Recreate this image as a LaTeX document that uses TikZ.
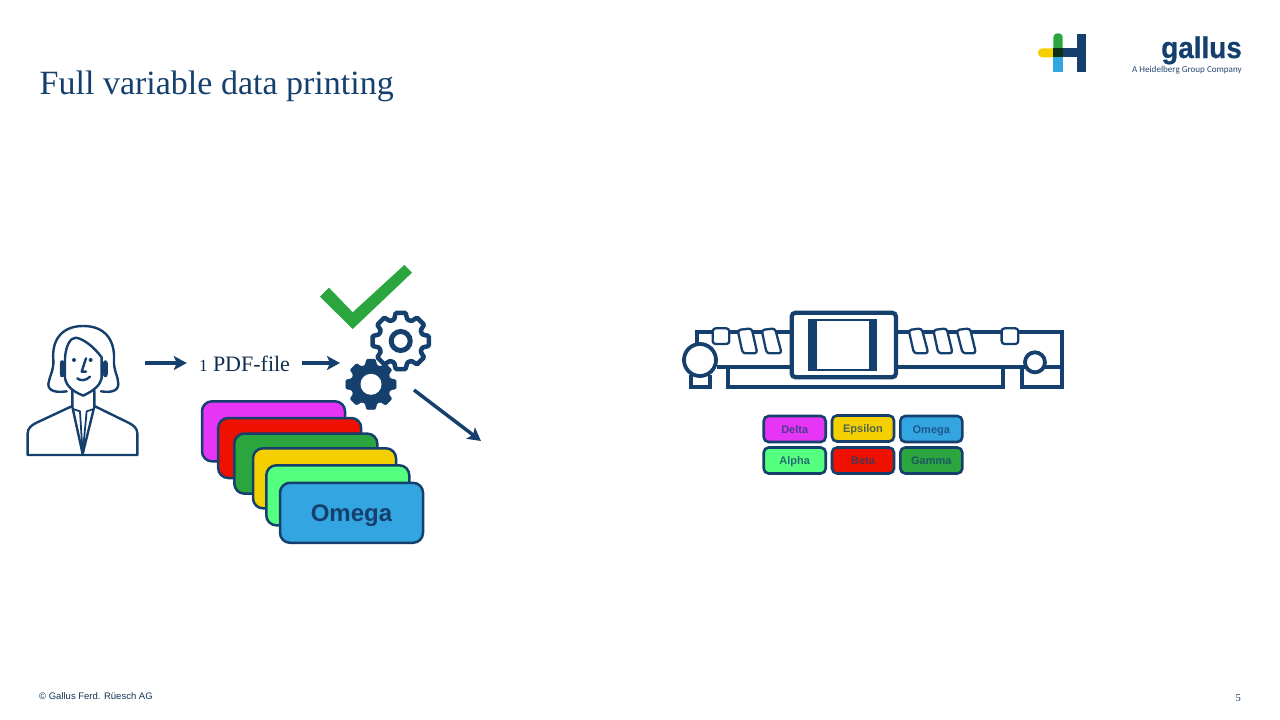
\documentclass[tikz,border=0pt]{standalone}
\usepackage{fontspec}
\setmainfont{Liberation Serif}
\setsansfont{Liberation Sans}
\newfontfamily\logofont{Carlito}
\newfontfamily\brandfont[FakeStretch=0.93,FakeBold=0.6]{Liberation Sans Bold}
\usetikzlibrary{arrows.meta}

\definecolor{navy}{HTML}{15406E}
\definecolor{cardmagenta}{HTML}{E735F5}
\definecolor{cardred}{HTML}{EE1100}
\definecolor{cardgreen}{HTML}{2BA63F}
\definecolor{cardyellow}{HTML}{F5D000}
\definecolor{cardlime}{HTML}{55FF7F}
\definecolor{cardblue}{HTML}{33A5E0}

\tikzset{
	card/.style={draw=navy,line width=2.5pt,rounded corners=10pt,minimum width=143pt,minimum height=60pt,inner sep=0pt,outer sep=0pt,text height=17pt,text depth=0pt,font=\sffamily\bfseries\fontsize{24}{24}\selectfont,text=navy},
	smallcard/.style={draw=navy,line width=2.6pt,rounded corners=5pt,minimum width=62pt,minimum height=26pt,inner sep=0pt,outer sep=0pt,text height=8pt,text depth=0pt,font=\sffamily\bfseries\fontsize{11}{11}\selectfont,text=navy,text opacity=0.75},
	flow/.style={draw=navy,line width=3.5pt,-{Stealth[length=13pt,width=14pt,inset=3pt]}},
	outline/.style={draw=navy,line width=2.4pt,line join=round,line cap=round},
	press/.style={draw=navy,line width=3.8pt,line join=miter},
	roller/.style={draw=navy,fill=white,line width=2.3pt,line join=round,rounded corners=3pt}
}

\newcommand{\cogwheel}[4]{
	\draw[#4,shift={#1},rounded corners=1pt] (-17:#3) -- (-10:#2) -- (10:#2) -- (17:#3)
		\foreach \a in {45,90,...,315} {-- (\a-17:#3) -- (\a-10:#2) -- (\a+10:#2) -- (\a+17:#3)} -- cycle;
}

\begin{document}
\begin{tikzpicture}[x=1pt,y=-1pt]
	\useasboundingbox (0,0) rectangle (1280,720);
	\fill[white] (0,0) rectangle (1280,720);

	\node[anchor=base west,inner sep=0pt,text=navy,font=\fontsize{34}{34}\selectfont] (title) at (39.5,94.5) {Full variable data printing};

	% logos
	\fill[cardyellow,rounded corners=4pt] (1038,48.3) rectangle (1062,57.3);
	\fill[cardgreen,rounded corners=4pt] (1053.3,33.3) rectangle (1062.7,56);
	\fill[cardblue] (1053.3,53) rectangle (1062.7,71.7);
	\fill[navy] (1062.7,48.3) rectangle (1077.3,57.3);
	\fill[navy] (1077.3,34) rectangle (1086,71.7);
	\fill[black!70!cardgreen] (1053.3,48.3) rectangle (1062.7,57.3);
	\node[anchor=base east,inner sep=0pt,text=navy,font=\brandfont\fontsize{30}{30}\selectfont] (gallus) at (1242,58) {gallus};
	\node[anchor=base east,inner sep=0pt,text=navy!85!gray,font=\logofont\fontsize{9.1}{9.1}\selectfont] (group) at (1242,72) {A Heidelberg Group Company};

	% person
	\node[minimum width=111pt,minimum height=131pt,inner sep=0pt] (agent) at (82.5,390.5) {};
	\begin{scope}[shift={(0,250)},scale=0.3333]
		\draw[outline] (200,424) .. controls (170,428) and (145,425) .. (145,402) .. controls (148,380) and (162,360) .. (160,330) .. controls (155,270) and (185,228) .. (250,228) .. controls (315,228) and (345,270) .. (342,330) .. controls (340,360) and (355,380) .. (355,402) .. controls (355,425) and (330,428) .. (303,424);
		\draw[outline] (195,385) -- (195,325) .. controls (197,290) and (210,262) .. (228,263) .. controls (255,268) and (285,295) .. (305,322) -- (305,385) .. controls (300,405) and (285,420) .. (250,437) .. controls (220,425) and (200,410) .. (195,385);
		\draw[outline,rounded corners=2pt] (183,335) rectangle (190,378);
		\draw[outline,rounded corners=2pt] (312,335) rectangle (320,378);
		\fill[navy] (222,330) circle (6);
		\fill[navy] (272,330) circle (6);
		\draw[outline] (258,325) -- (245,365) -- (258,365);
		\draw[outline] (232,385) .. controls (240,393) and (258,393) .. (270,380);
		\draw[outline] (217,422) -- (217,468) -- (110,518) .. controls (95,525) and (83,535) .. (83,550) -- (83,615) -- (412,615) -- (412,550) .. controls (412,535) and (400,525) .. (385,518) -- (283,468) -- (283,422);
		\draw[outline] (217,470) -- (248,612) -- (283,470);
		\draw[outline,line width=1.8pt] (222,478) -- (240,484) -- (248,612) -- (260,484) -- (278,478);
	\end{scope}

	% cards
	\node[card,fill=cardmagenta] (card_delta) at (273.5,431.3) {};
	\node[card,fill=cardred] (card_beta) at (289.7,448) {};
	\node[card,fill=cardgreen] (card_gamma) at (305.8,463.6) {};
	\node[card,fill=cardyellow] (card_epsilon) at (324.5,478.3) {};
	\node[card,fill=cardlime] (card_alpha) at (337.8,495.3) {};
	\node[card,fill=cardblue] (card_omega) at (351.5,512.8) {Omega};

	% gears and check
	\fill[cardgreen] (320,296.7) -- (329,287.7) -- (352.7,312.3) -- (404.3,265) -- (412,272.7) -- (352.7,329) -- cycle;
	\cogwheel{(400.7,341)}{28.5}{22.5}{draw=navy,fill=white,line width=4.5pt}
	\draw[navy,line width=5pt] (400.7,341) circle (9.5);
	\cogwheel{(371,384.3)}{25.5}{20}{fill=navy,draw=navy}
	\fill[white] (371,384.3) circle (10.5);

	% flow
	\node[inner sep=0pt,minimum width=115pt,minimum height=24pt,text=navy!70!black,font=\fontsize{22}{22}\selectfont] (pdf) at (244.5,364) {{\fontsize{17}{17}\selectfont 1} PDF-file};
	\coordinate (gear_in) at (340,363);
	\coordinate (gear_out) at (414,390);
	\coordinate (press_in) at (481,441);
	\draw[flow,shorten <=7pt] (agent.east |- gear_in) -- (pdf.west |- gear_in);
	\draw[flow] (pdf.east |- gear_in) -- (gear_in);
	\draw[flow] (gear_out) -- (press_in);

	% press
	\begin{scope}[shift={(670,300)},scale=0.3333]
		\draw[press] (80,140) -- (80,95) -- (360,95);
		\draw[press] (140,200) -- (360,200);
		\draw[press] (175,205) -- (175,262) -- (1000,262) -- (1000,205);
		\draw[press] (63,225) -- (63,262) -- (120,262) -- (120,225);
		\draw[press] (680,95) -- (1175,95) -- (1175,262) -- (1055,262) -- (1055,200) -- (1070,200);
		\draw[press] (680,200) -- (1070,200);
		\draw[press] (1120,200) -- (1175,200);
		\draw[press,fill=white] (90,180) circle (48);
		\draw[press,fill=white] (1095,187) circle (30);
		\draw[press,fill=white,line width=4.2pt,rounded corners=4pt] (365,38) rectangle (678,232);
		\fill[navy] (415,57) rectangle (622,212);
		\fill[white] (440,62) rectangle (597,207);
		\draw[roller] (128,85) rectangle (178,132);
		\draw[roller] (995,85) rectangle (1045,132);
		\draw[roller] (203,90) -- (245,85) -- (262,160) -- (218,160) -- cycle;
		\draw[roller] (275,90) -- (315,85) -- (335,160) -- (290,160) -- cycle;
		\draw[roller] (716,90) -- (755,85) -- (775,160) -- (732,160) -- cycle;
		\draw[roller] (790,90) -- (830,85) -- (848,160) -- (805,160) -- cycle;
		\draw[roller] (860,90) -- (900,85) -- (918,160) -- (878,160) -- cycle;
	\end{scope}

	% labels under press
	\node[smallcard,fill=cardmagenta] (label_delta) at (794.7,429) {Delta};
	\node[smallcard,fill=cardyellow] (label_epsilon) at (863,428.5) {Epsilon};
	\node[smallcard,fill=cardblue] (label_omega) at (931.3,429) {Omega};
	\node[smallcard,fill=cardlime] (label_alpha) at (794.7,460.5) {Alpha};
	\node[smallcard,fill=cardred] (label_beta) at (863,460.5) {Beta};
	\node[smallcard,fill=cardgreen] (label_gamma) at (931.3,460.5) {Gamma};

	% footer
	\node[anchor=base west,inner sep=0pt,text=navy!80!black,font=\sffamily\fontsize{9.5}{9.5}\selectfont] (copyright) at (39,699) {© Gallus Ferd. Rüesch AG};
	\node[anchor=base east,inner sep=0pt,text=navy,font=\fontsize{10.5}{10.5}\selectfont] (page) at (1241,701) {5};
\end{tikzpicture}
\end{document}
